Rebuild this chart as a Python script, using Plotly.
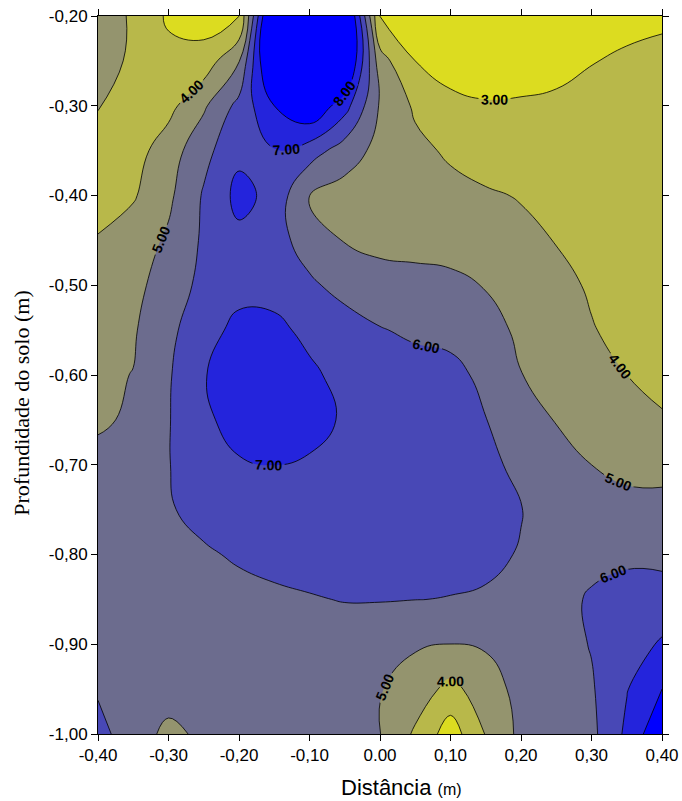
import plotly.graph_objects as go

# Distance (m) and soil depth (m) of the grid nodes
distance = [-0.40, -0.35, -0.30, -0.25, -0.20, -0.15, -0.10, -0.05, 0.00,
            0.05, 0.10, 0.15, 0.20, 0.25, 0.30, 0.35, 0.40]
depth = [-0.20, -0.25, -0.30, -0.35, -0.40, -0.45, -0.50, -0.55, -0.60,
         -0.65, -0.70, -0.75, -0.80, -0.85, -0.90, -0.95, -1.00]

# Values, one row per depth
row_020 = [4.6, 3.85, 2.85, 2.55, 2.95, 10.4, 11.0, 10.0, 2.95, 2.3, 2.2, 2.1, 2.1, 2.2, 2.4, 2.6, 2.8]
row_025 = [4.5, 3.8, 3.3, 3.4, 4.95, 10.0, 10.8, 9.7, 4.4, 3.0, 2.5, 2.4, 2.4, 2.5, 2.95, 3.2, 3.3]
row_030 = [4.05, 3.6, 3.7, 4.85, 6.3, 8.0, 9.0, 7.4, 4.9, 3.85, 3.3, 3.1, 3.15, 3.3, 3.4, 3.5, 3.4]
row_035 = [3.6, 3.6, 4.5, 5.7, 6.75, 6.95, 6.5, 5.5, 4.7, 4.25, 3.85, 3.6, 3.5, 3.4, 3.4, 3.4, 3.45]
row_040 = [3.4, 3.9, 4.8, 6.1, 7.3, 6.7, 4.9, 4.6, 4.6, 4.5, 4.3, 4.1, 3.95, 3.7, 3.5, 3.4, 3.5]
row_045 = [4.1, 4.5, 5.15, 6.15, 6.75, 6.35, 5.6, 4.95, 4.7, 4.6, 4.5, 4.35, 4.2, 3.97, 3.75, 3.6, 3.55]
row_050 = [4.5, 4.7, 5.5, 6.25, 6.7, 6.7, 6.15, 5.7, 5.45, 5.4, 5.3, 4.95, 4.6, 4.25, 3.9, 3.65, 3.6]
row_055 = [4.7, 4.9, 5.75, 6.65, 7.25, 7.2, 6.8, 6.4, 6.05, 5.85, 5.7, 5.3, 4.85, 4.4, 4.05, 3.75, 3.7]
row_060 = [4.85, 5.02, 5.9, 6.95, 7.5, 7.55, 7.15, 6.75, 6.5, 6.35, 6.3, 5.75, 5.02, 4.6, 4.3, 4.0, 3.85]
row_065 = [4.9, 5.1, 5.95, 6.8, 7.4, 7.55, 7.3, 6.9, 6.6, 6.45, 6.3, 6.02, 5.5, 4.95, 4.55, 4.25, 4.05]
row_070 = [5.2, 5.55, 5.97, 6.5, 6.9, 7.02, 6.9, 6.7, 6.55, 6.45, 6.35, 6.15, 5.85, 5.4, 5.0, 4.75, 4.75]
row_075 = [5.45, 5.7, 5.93, 6.25, 6.5, 6.6, 6.55, 6.5, 6.45, 6.35, 6.25, 6.1, 6.02, 5.7, 5.45, 5.3, 5.25]
row_080 = [5.55, 5.65, 5.75, 5.9, 6.1, 6.25, 6.3, 6.3, 6.3, 6.25, 6.2, 6.1, 5.97, 5.85, 5.75, 5.8, 5.7]
row_085 = [5.6, 5.6, 5.6, 5.65, 5.75, 5.85, 5.95, 6.03, 6.04, 6.01, 5.98, 5.95, 5.7, 5.7, 6.1, 6.4, 6.5]
row_090 = [5.65, 5.6, 5.55, 5.55, 5.55, 5.6, 5.6, 5.6, 5.4, 5.1, 4.98, 5.1, 5.4, 5.6, 6.05, 6.6, 7.1]
row_095 = [5.9, 5.6, 5.45, 5.5, 5.55, 5.6, 5.6, 5.5, 5.05, 4.55, 3.7, 4.55, 5.3, 5.55, 5.9, 6.95, 8.0]
row_100 = [6.3, 5.5, 4.75, 5.2, 5.5, 5.6, 5.6, 5.5, 5.02, 3.85, 2.5, 4.05, 5.25, 5.5, 5.75, 7.2, 8.9]

# Contour levels and band colours (below 3 ... above 8)
level_start = 3
level_end = 8
level_step = 1
band_colors = ["#DCDC20", "#B8B84A", "#94946E", "#6C6C8E", "#4848B6", "#2424DC", "#0000FF"]

x_tick_vals = [-0.40, -0.30, -0.20, -0.10, 0.00, 0.10, 0.20, 0.30, 0.40]
x_tick_text = ["-0,40", "-0,30", "-0,20", "-0,10", "0.00", "0,10", "0,20", "0,30", "0,40"]
y_tick_vals = [-0.20, -0.30, -0.40, -0.50, -0.60, -0.70, -0.80, -0.90, -1.00]
y_tick_text = ["-0,20", "-0,30", "-0,40", "-0,50", "-0,60", "-0,70", "-0,80", "-0,90", "-1,00"]

z = [row_020, row_025, row_030, row_035, row_040, row_045, row_050, row_055, row_060,
     row_065, row_070, row_075, row_080, row_085, row_090, row_095, row_100]

n = len(band_colors)
colorscale = []
for i, c in enumerate(band_colors):
    lo = max(0.0, (i - 0.5) / (n - 1))
    hi = min(1.0, (i + 0.5) / (n - 1))
    colorscale.append([lo, c])
    colorscale.append([hi, c])

fig = go.Figure(go.Contour(
    x=distance, y=depth, z=z,
    colorscale=colorscale, showscale=False,
    autocontour=False,
    contours=dict(start=level_start, end=level_end, size=level_step,
                  coloring="fill", showlabels=True, labelformat=".2f",
                  labelfont=dict(family="Liberation Sans, Arial", size=14,
                                 color="black", weight="bold")),
    line=dict(color="black", width=0.8, smoothing=1.3),
    hoverinfo="skip",
))

axis_common = dict(showline=True, linecolor="black", linewidth=1, mirror="ticks",
                   ticks="outside", ticklen=6, tickcolor="black", showgrid=False,
                   zeroline=False, automargin=False,
                   tickfont=dict(family="Liberation Sans, Arial", size=17, color="black"))

fig.update_xaxes(range=[-0.40, 0.40], tickvals=x_tick_vals, ticktext=x_tick_text, **axis_common)
fig.update_yaxes(range=[-1.00, -0.20], tickvals=y_tick_vals, ticktext=y_tick_text, **axis_common)

fig.add_annotation(text="Distância <span style='font-size:16px'>(m)</span>",
                   xref="paper", yref="paper", x=0.539, y=0, yshift=-53,
                   xanchor="center", yanchor="middle", showarrow=False,
                   font=dict(family="Liberation Sans, Arial", size=22, color="black"))
fig.add_annotation(text="Profundidade do solo (m)",
                   xref="paper", yref="paper", x=0, xshift=-76, y=0.46,
                   xanchor="center", yanchor="middle", showarrow=False, textangle=-90,
                   font=dict(family="Liberation Serif, Times New Roman", size=22, color="black"))

fig.update_layout(width=682, height=801, margin=dict(l=98, r=20, t=16, b=67),
                  paper_bgcolor="white", plot_bgcolor="white", showlegend=False)

fig.write_html("out.html", config={"displayModeBar": False},
               post_script="document.body.style.margin='0';")
